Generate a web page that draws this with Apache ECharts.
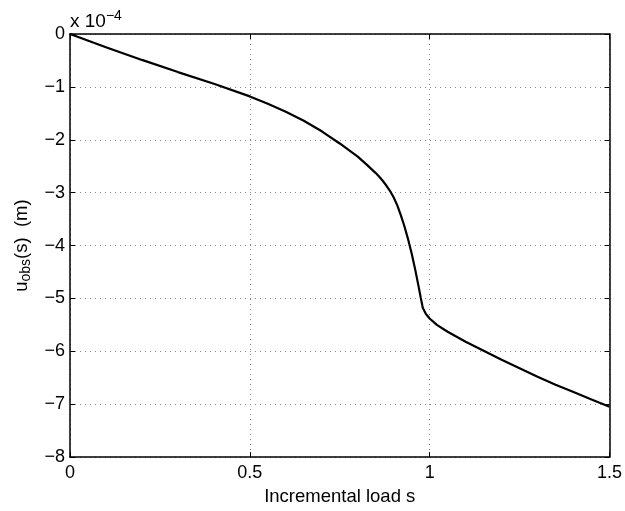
<!DOCTYPE html>
<html>
<head>
<meta charset="utf-8">
<script src="https://cdn.jsdelivr.net/npm/echarts@6/dist/echarts.min.js"></script>
<style>
html,body{margin:0;padding:0;background:#fff;}
#c{width:625px;height:511px;}
</style>
</head>
<body>
<div id="c"></div>
<script>
// Incremental load s
const xs = [0, 0.1, 0.2, 0.3, 0.4, 0.5, 0.55, 0.6, 0.65, 0.7, 0.75, 0.8, 0.825, 0.85, 0.86, 0.87, 0.88, 0.89, 0.9, 0.91, 0.92, 0.93, 0.94, 0.95, 0.96, 0.97, 0.975, 0.981, 0.99, 1.0, 1.02, 1.05, 1.1, 1.15, 1.2, 1.25, 1.3, 1.35, 1.4, 1.45, 1.5];
// u_obs(s) in units of 1e-4 m
const ys = [0, -0.25, -0.49, -0.72, -0.94, -1.18, -1.32, -1.47, -1.64, -1.84, -2.07, -2.32, -2.47, -2.63, -2.70, -2.78, -2.87, -2.97, -3.09, -3.24, -3.43, -3.64, -3.88, -4.15, -4.46, -4.80, -4.98, -5.18, -5.30, -5.38, -5.50, -5.63, -5.82, -5.99, -6.16, -6.32, -6.48, -6.63, -6.77, -6.91, -7.05];
const xTicks = [0, 0.5, 1, 1.5];
const yTicks = [-8, -7, -6, -5, -4, -3, -2, -1, 0];

const font = 'Liberation Sans, Arial, Helvetica, sans-serif';
const fmt = v => (v < 0 ? '\u2212' + Math.abs(v) : String(v));
const chart = echarts.init(document.getElementById('c'), null, {renderer: 'canvas'});
const frame = {show: true, onZero: false, lineStyle: {color: '#000', width: 1.5}};
const tick = {show: true, inside: true, length: 5, lineStyle: {color: '#000', width: 1}};
const grid = {show: true, lineStyle: {color: '#888', type: [1, 4], width: 1}};
chart.setOption({
  animation: false,
  backgroundColor: '#fff',
  grid: {left: 70, right: 15, top: 34, bottom: 52, containLabel: false},
  graphic: [{
    type: 'text', left: 70, top: 9,
    style: {
      text: 'x 10{s|\u22124}',
      font: '19px ' + font,
      fill: '#000',
      rich: {s: {fontSize: 14, fontFamily: font, verticalAlign: 'top', padding: [0, 0, 12, 0]}}
    }
  }],
  xAxis: [{
    type: 'value', min: xTicks[0], max: xTicks[xTicks.length - 1], interval: 0.5,
    position: 'bottom',
    axisLine: frame, axisTick: tick,
    axisLabel: {color: '#000', fontSize: 18, fontFamily: font, margin: 7, formatter: fmt},
    splitLine: grid,
    name: 'Incremental load s', nameLocation: 'middle', nameGap: 26,
    nameTextStyle: {color: '#000', fontSize: 18.5, fontFamily: font}
  }, {
    type: 'value', min: 0, max: 1.5, interval: 0.5, position: 'top',
    axisLine: frame, axisTick: tick, axisLabel: {show: false}, splitLine: {show: false}
  }],
  yAxis: [{
    type: 'value', min: yTicks[0], max: yTicks[yTicks.length - 1], interval: 1,
    position: 'left',
    axisLine: frame, axisTick: tick,
    axisLabel: {color: '#000', fontSize: 18, fontFamily: font, margin: 5, formatter: fmt},
    splitLine: grid,
    name: 'u{sub|obs}(s)  (m)', nameLocation: 'middle', nameGap: 33, nameRotate: 90,
    nameTextStyle: {color: '#000', fontSize: 18.5, fontFamily: font,
      rich: {sub: {fontSize: 14, fontFamily: font, verticalAlign: 'bottom', padding: [9, 0, 0, 0]}}}
  }, {
    type: 'value', min: -8, max: 0, interval: 1, position: 'right',
    axisLine: frame, axisTick: tick, axisLabel: {show: false}, splitLine: {show: false}
  }],
  series: [{
    type: 'line', xAxisIndex: 0, yAxisIndex: 0,
    data: xs.map((x, i) => [x, ys[i]]),
    showSymbol: false, smooth: false,
    lineStyle: {color: '#000', width: 2.2}
  }]
});
</script>
</body>
</html>
